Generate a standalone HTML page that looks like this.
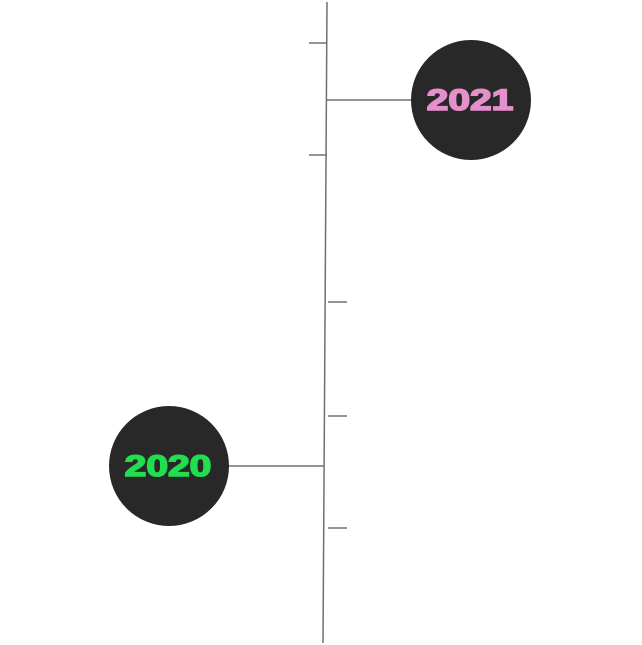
<!DOCTYPE html>
<html><head><meta charset="utf-8"><style>
html,body{margin:0;padding:0;background:#fff;width:642px;height:645px;overflow:hidden}
svg{display:block}
text{font-family:"Liberation Sans",sans-serif;font-weight:bold;font-size:30px;stroke-width:1.6;paint-order:stroke}
</style></head><body>
<svg width="642" height="645">
<g stroke="#707070" stroke-width="1.5" fill="none">
<line x1="327" y1="2" x2="323" y2="643"/>
<line x1="309" y1="43" x2="327" y2="43"/>
<line x1="309" y1="155" x2="327" y2="155"/>
<line x1="328" y1="302" x2="347" y2="302"/>
<line x1="328" y1="416" x2="347" y2="416"/>
<line x1="328" y1="528" x2="347" y2="528"/>
<line x1="327" y1="100" x2="412" y2="100"/>
<line x1="228" y1="466" x2="324" y2="466"/>
</g>
<g>
<circle cx="471" cy="100" r="60" fill="#282828"/>
<text x="0" y="0" fill="#e590cc" stroke="#e590cc" text-anchor="middle" transform="translate(470,110) scale(1.3,1)">2021</text>
</g>
<g>
<circle cx="169" cy="466" r="60" fill="#282828"/>
<text x="0" y="0" fill="#22dd4f" stroke="#22dd4f" text-anchor="middle" transform="translate(168,476) scale(1.3,1)">2020</text>
</g>
</svg>
</body></html>
